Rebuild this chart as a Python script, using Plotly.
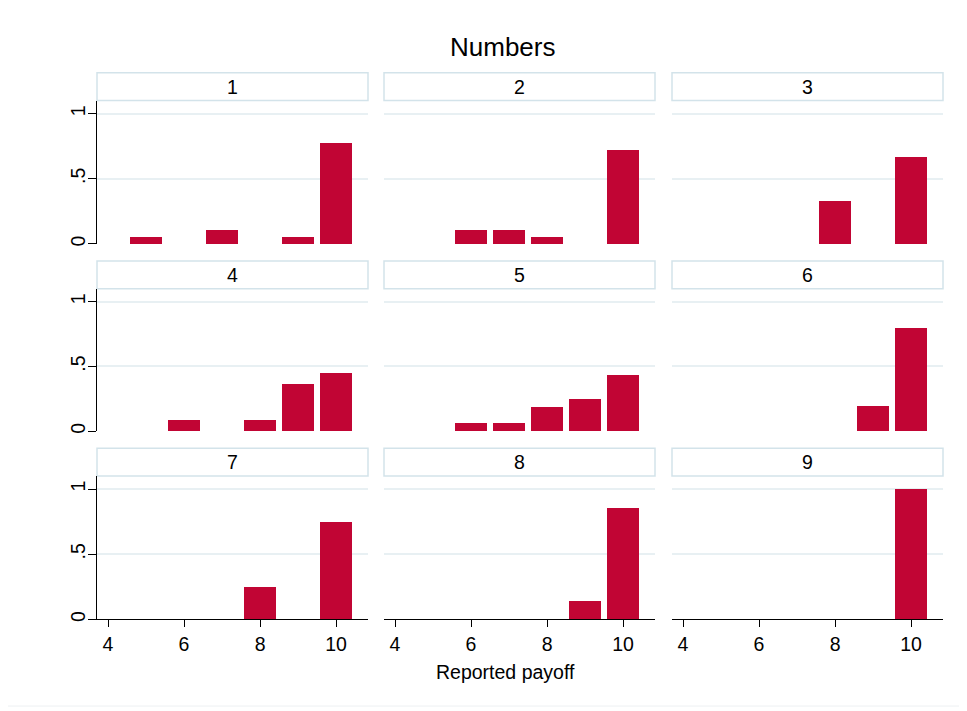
import plotly.graph_objects as go

W, H = 967, 711
OFF = 8  # page body margin in the browser

panels = ["1", "2", "3", "4", "5", "6", "7", "8", "9"]
payoffs = [4, 5, 6, 7, 8, 9, 10]
fractions = [
    [0, 0.056, 0, 0.111, 0, 0.056, 0.778],
    [0, 0, 0.111, 0.111, 0.056, 0, 0.722],
    [0, 0, 0, 0, 0.333, 0, 0.667],
    [0, 0, 0.091, 0, 0.091, 0.364, 0.455],
    [0, 0, 0.0625, 0.0625, 0.1875, 0.25, 0.4375],
    [0, 0, 0, 0, 0, 0.2, 0.8],
    [0, 0, 0, 0, 0.25, 0, 0.75],
    [0, 0, 0, 0, 0, 0.143, 0.857],
    [0, 0, 0, 0, 0, 0, 1.0],
]
x_ticks = [4, 6, 8, 10]
y_ticks = [0, 0.5, 1]
y_ticktext = ["0", ".5", "1"]

BAR = "#C10534"
GRID = "#E8F0F3"
STRIP_LINE = "#D3E3EA"
FONT = "Liberation Sans, Arial, sans-serif"

col_px = [(97, 368), (384, 655), (672, 943)]
row_plot_px = [(101, 245), (290, 433), (478, 622)]
row_strip_px = [(73, 101), (262, 290), (450, 478)]

def px(x):
    return (x - OFF) / W

def py(y):
    return 1 - (y - OFF) / H

fig = go.Figure()
shapes = []
annotations = []

for i, name in enumerate(panels):
    r, c = divmod(i, 3)
    k = i + 1
    xa = "x" if k == 1 else f"x{k}"
    ya = "y" if k == 1 else f"y{k}"
    nonzero = [(p, v) for p, v in zip(payoffs, fractions[i]) if v > 0]
    fig.add_trace(go.Bar(
        x=[p for p, v in nonzero], y=[v for p, v in nonzero],
        width=0.84, marker=dict(color=BAR, line=dict(width=0)),
        xaxis=xa, yaxis=ya, showlegend=False,
    ))
    x0, x1 = col_px[c]
    y0, y1 = row_plot_px[r]
    bottom = r == 2
    left = c == 0
    fig.layout[f"xaxis{'' if k == 1 else k}"] = dict(
        domain=[px(x0), px(x1)], anchor=ya, range=[3.71, 10.84],
        tickvals=x_ticks, showticklabels=bottom,
        ticks="outside" if bottom else "", ticklen=7, tickcolor="black",
        showline=bottom, linecolor="black", linewidth=1,
        showgrid=False, zeroline=False, fixedrange=True,
        tickfont=dict(size=19.5, color="black", family=FONT),
    )
    fig.layout[f"yaxis{'' if k == 1 else k}"] = dict(
        domain=[py(y1), py(y0)], anchor=xa, range=[0, 1.1],
        tickvals=y_ticks, ticktext=y_ticktext, showticklabels=left,
        ticks="outside" if left else "", ticklen=8, tickcolor="black",
        tickangle=-90, ticklabelstandoff=-5,
        showline=left, linecolor="black", linewidth=1,
        showgrid=True, gridcolor=GRID, gridwidth=1.5, zeroline=False, fixedrange=True,
        tickfont=dict(size=19.5, color="black", family=FONT),
    )
    sy0, sy1 = row_strip_px[r]
    shapes.append(dict(type="rect", xref="paper", yref="paper",
                       x0=px(x0), x1=px(x1), y0=py(sy1), y1=py(sy0),
                       line=dict(color=STRIP_LINE, width=1.5), fillcolor="white", layer="below"))
    annotations.append(dict(text=name, xref="paper", yref="paper",
                            x=px((x0 + x1) / 2), y=py((sy0 + sy1) / 2),
                            xanchor="center", yanchor="middle", showarrow=False,
                            font=dict(size=19.5, color="black", family=FONT)))

# outer frame
shapes.append(dict(type="rect", xref="paper", yref="paper",
                   x0=px(7), x1=px(963), y0=py(709), y1=py(4),
                   line=dict(color="#EDF0F2", width=1), fillcolor="rgba(0,0,0,0)", layer="below"))

annotations.append(dict(text="Numbers", xref="paper", yref="paper",
                        x=px(502), y=py(47), xanchor="center", yanchor="middle",
                        showarrow=False, font=dict(size=26, color="black", family=FONT)))
annotations.append(dict(text="Reported payoff", xref="paper", yref="paper",
                        x=px(505), y=py(675), xanchor="center", yanchor="middle",
                        showarrow=False, font=dict(size=19.5, color="black", family=FONT)))

fig.update_layout(
    width=W, height=H, autosize=False,
    margin=dict(l=0, r=0, t=0, b=0),
    paper_bgcolor="white", plot_bgcolor="white",
    shapes=shapes, annotations=annotations,
    bargap=0, font=dict(family=FONT, color="black"),
)

fig.write_html("out.html")
